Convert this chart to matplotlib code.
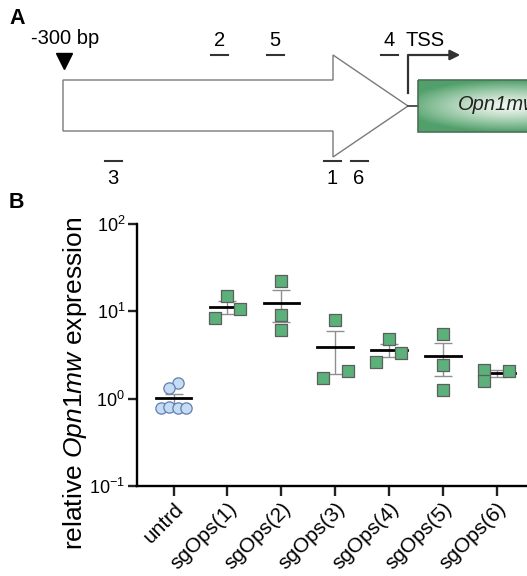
import numpy as np
import matplotlib
matplotlib.use("Agg")
import matplotlib.pyplot as plt
from matplotlib.patches import Polygon, Rectangle
from matplotlib.transforms import ScaledTranslation

plt.rcParams['font.family'] = ['Liberation Sans', 'DejaVu Sans']
plt.rcParams['mathtext.fontset'] = 'custom'
plt.rcParams['mathtext.rm'] = 'Liberation Sans'
plt.rcParams['mathtext.it'] = 'Liberation Sans:italic'

# ---------------- data ----------------
categories = ['untrd', 'sgOps(1)', 'sgOps(2)', 'sgOps(3)', 'sgOps(4)', 'sgOps(5)', 'sgOps(6)']
untrd = [1.53, 1.34, 0.79, 0.81, 0.79, 0.79]
sgops1 = [8.3, 14.9, 10.5]
sgops2 = [22.5, 9.07, 6.1]
sgops3 = [7.88, 1.73, 2.1]
sgops4 = [4.86, 2.64, 3.35]
sgops5 = [5.54, 2.41, 1.27]
sgops6 = [2.15, 1.6, 2.08]
series = [untrd, sgops1, sgops2, sgops3, sgops4, sgops5, sgops6]
ytick_vals = [0.1, 1, 10, 100]
ytick_labels = [r'$10^{-1}$', r'$10^{0}$', r'$10^{1}$', r'$10^{2}$']

# guide RNA positions on the promoter schematic
guide_labels = ['1', '2', '3', '4', '5', '6']
guide_pos = [332, 219.5, 113, 389, 275, 359]
guide_above = [False, True, False, True, True, False]

# horizontal spread of points (swarm layout, in category units)
spread = [[0.08, -0.08, -0.23, -0.08, 0.08, 0.23],
          [-0.24, 0, 0.23],
          [0, 0, 0],
          [0, -0.23, 0.24],
          [0, -0.24, 0.23],
          [0, 0, 0],
          [-0.24, -0.24, 0.23]]

W, H = 527, 576
fig = plt.figure(figsize=(W / 100, H / 100), dpi=100)

# ---------------- panel A (schematic) ----------------
axA = fig.add_axes([0, 0, 1, 1])
axA.axis('off')

arrow = Polygon([(63, 80), (333, 80), (333, 55), (408, 106), (333, 157),
                 (333, 131), (63, 131)], closed=True, facecolor='white',
                edgecolor='#7a7a7a', lw=1.0)
axA.add_patch(arrow)
axA.plot([408, 418], [106, 106], color='#444444', lw=1.3)

# gradient gene box
gx = np.linspace(-1, 1, 200)
gy = np.linspace(-1, 1, 60)
GX, GY = np.meshgrid(gx, gy)
R = np.clip(np.sqrt((GX * 0.85) ** 2 + (GY * 1.0) ** 2), 0, 1)
c_in = np.array([0.94, 0.97, 0.94])
c_out = np.array([0.32, 0.63, 0.42])
img = c_in[None, None, :] * (1 - R[..., None] ** 1.3) + c_out[None, None, :] * (R[..., None] ** 1.3)
axA.imshow(img, extent=(418, 600, 132, 80), aspect='auto', zorder=1)
axA.add_patch(Rectangle((418, 80), 200, 52, fill=False, edgecolor='#4f6f58', lw=1.2, zorder=2))
axA.text(458, 104, 'Opn1mw', fontsize=14.5, style='italic', ha='left', va='center',
         color='#222222', zorder=3)
axA.set_xlim(0, W)
axA.set_ylim(H, 0)

# TSS arrow
axA.plot([408, 408, 452], [93, 55, 55], color='#333333', lw=1.6)
axA.annotate('', xy=(463, 55), xytext=(450, 55),
             arrowprops=dict(arrowstyle='-|>,head_length=0.6,head_width=0.3',
                             color='#333333', lw=1.6))
axA.text(405, 40, 'TSS', fontsize=14.5, ha='left', va='center')

# -300 bp marker
axA.text(31, 39, '-300 bp', fontsize=14.5, ha='left', va='center')
axA.plot([64], [61], marker='v', color='black', markersize=11)

for lab, gxp, above in zip(guide_labels, guide_pos, guide_above):
    yb = 55 if above else 161
    yt = 40 if above else 178
    axA.plot([gxp - 8.5, gxp + 8.5], [yb, yb], color='#333333', lw=1.5)
    axA.text(gxp, yt, lab, fontsize=14.5, ha='center', va='center')

axA.text(9, 18, 'A', fontsize=15.5, fontweight='bold', ha='left', va='center')
axA.text(9, 203, 'B', fontsize=15.5, fontweight='bold', ha='left', va='center')

# ---------------- panel B ----------------
left, right, top, bottom = 137, 527, 224, 486
axB = fig.add_axes([left / W, 1 - bottom / H, (right - left) / W, (bottom - top) / H])
axB.patch.set_alpha(0)
axB.set_yscale('log')
axB.set_ylim(0.1, 100)
axB.set_xlim(-0.68, 6.56)
for s in ['top', 'right']:
    axB.spines[s].set_visible(False)
for s in ['left', 'bottom']:
    axB.spines[s].set_linewidth(1.7)
axB.set_yticks(ytick_vals)
axB.set_yticklabels(ytick_labels, fontsize=13)
axB.yaxis.set_minor_locator(matplotlib.ticker.NullLocator())
axB.set_xticks(range(len(categories)))
axB.set_xticklabels(categories, rotation=45, ha='right', va='top',
                    rotation_mode='anchor', fontsize=15)
offset = ScaledTranslation(8 / 100, -6 / 100, fig.dpi_scale_trans)
for lbl in axB.get_xticklabels():
    lbl.set_transform(lbl.get_transform() + offset)
axB.tick_params(axis='y', length=6.5, width=1.7, color='#222222', pad=2)
axB.tick_params(axis='x', length=7.5, width=1.7, color='#222222', pad=2)

for i, (vals, off) in enumerate(zip(series, spread)):
    vals = np.array(vals)
    xs = i + np.array(off)
    if i == 0:
        axB.scatter(xs, vals, marker='o', s=66, facecolor='#c6dcf5', edgecolor='#5f7fae',
                    linewidth=0.9, zorder=5)
    else:
        axB.scatter(xs, vals, marker='s', s=70, facecolor='#5cb07a', edgecolor='#5e5e5e',
                    linewidth=0.9, zorder=5)
    m = vals.mean()
    sem = vals.std(ddof=1) / np.sqrt(len(vals))
    axB.errorbar(i, m, yerr=sem, color='#8f8f8f', elinewidth=1.0, capsize=6.5,
                 capthick=1.0, fmt='none', zorder=3)
    axB.plot([i - 0.33, i + 0.33], [m, m], color='black', lw=2.0, zorder=4)

fig.text(75 / W, 1 - 383 / H, r'relative $\mathit{Opn1mw}$ expression', rotation=90,
         fontsize=19, ha='center', va='center')

fig.savefig('out.png', dpi=100)
